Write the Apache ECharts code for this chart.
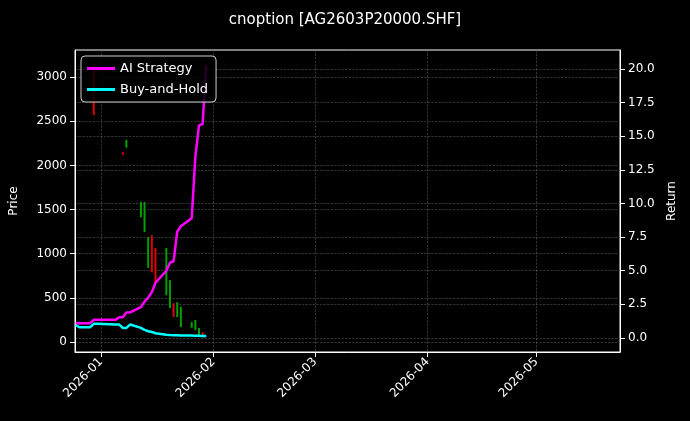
<!DOCTYPE html>
<html>
<head>
<meta charset="utf-8">
<title>cnoption</title>
<script src="https://cdn.jsdelivr.net/npm/echarts@6/dist/echarts.min.js"></script>
</head>
<body style="margin:0;padding:0;background:#000;">
<div id="main" style="width:690px;height:421px;"></div>
<script type="text/javascript">
// trading days
var dates = ['2025-12-25','2025-12-26','2025-12-29','2025-12-30','2025-12-31',
    '2026-01-05','2026-01-06','2026-01-07','2026-01-08','2026-01-09',
    '2026-01-12','2026-01-13','2026-01-14','2026-01-15','2026-01-16',
    '2026-01-19','2026-01-20','2026-01-21','2026-01-22','2026-01-23',
    '2026-01-26','2026-01-27','2026-01-28','2026-01-29','2026-01-30'];
var aiReturn  = [1.1,1.1,1.1,1.35,1.35,1.35,1.55,1.55,1.9,1.9,2.3,2.7,3.0,3.4,4.1,5.0,5.6,5.7,7.9,8.3,8.9,13.5,15.8,15.9,20.3];
var bahReturn = [0.97,0.8,0.8,1.05,1.05,1.0,1.0,0.75,0.75,1.0,0.75,0.6,0.5,0.45,0.35,0.25,0.22,0.21,0.2,0.19,0.18,0.17,0.16,0.15,0.15];
// candles: [date, open, close, low, high]
var candles = [
    ['2025-12-30', 3150, 2570, 2570, 3150],
    ['2026-01-07', 2140, 2130, 2120, 2150],
    ['2026-01-08', 2200, 2290, 2200, 2290],
    ['2026-01-12', 1420, 1585, 1415, 1585],
    ['2026-01-13', 1250, 1580, 1245, 1585],
    ['2026-01-14', 850, 1190, 840, 1190],
    ['2026-01-15', 1210, 800, 790, 1210],
    ['2026-01-16', 1060, 690, 680, 1065],
    ['2026-01-19', 540, 1060, 530, 1065],
    ['2026-01-20', 390, 700, 385, 700],
    ['2026-01-21', 440, 290, 283, 440],
    ['2026-01-22', 290, 450, 283, 450],
    ['2026-01-23', 175, 400, 170, 400],
    ['2026-01-26', 165, 226, 160, 226],
    ['2026-01-27', 140, 250, 135, 250],
    ['2026-01-28', 85, 160, 80, 160],
    ['2026-01-29', 110, 75, 70, 110]
];
var xTicks = ['2026-01-01','2026-02-01','2026-03-01','2026-04-01','2026-05-01'];
var priceTicks = [0,500,1000,1500,2000,2500,3000];
var returnTicks = [0,2.5,5,7.5,10,12.5,15,17.5,20];

function ts(d) { return +new Date(d + 'T00:00:00Z'); }
function fmt(v) {
    var d = new Date(v);
    var m = d.getUTCMonth() + 1;
    return d.getUTCFullYear() + '-' + (m < 10 ? '0' : '') + m;
}

var chart = echarts.init(document.getElementById('main'));
var tickTimes = xTicks.map(ts);
var gridLine = { show: true, lineStyle: { color: '#555', type: 'dashed', width: 0.6 } };
var axisTxt = { color: '#fff', fontSize: 12, fontFamily: 'DejaVu Sans' };

var option = {
    backgroundColor: '#000',
    animation: false,
    title: {
        text: 'cnoption [AG2603P20000.SHF]', left: 'center', top: 8,
        textStyle: { color: '#fff', fontSize: 15, fontWeight: 'normal', fontFamily: 'DejaVu Sans' }
    },
    legend: {
        orient: 'vertical', left: 81, top: 56,
        data: ['AI Strategy', 'Buy-and-Hold'],
        icon: 'rect', itemWidth: 28, itemHeight: 3, itemGap: 8,
        padding: [6, 8, 6, 6],
        borderColor: '#ccc', borderWidth: 1, borderRadius: 4,
        backgroundColor: 'rgba(0,0,0,0.85)',
        textStyle: { color: '#fff', fontSize: 13, fontFamily: 'DejaVu Sans' }
    },
    grid: { left: 74, right: 70, top: 50, bottom: 69, show: true, borderColor: '#fff', borderWidth: 1 },
    xAxis: {
        type: 'value',
        min: ts('2025-12-24') + 20 * 3600e3,
        max: ts('2026-05-24'),
        axisLine: { onZero: false, lineStyle: { color: '#fff' } },
        axisTick: { customValues: tickTimes, lineStyle: { color: '#fff' } },
        axisLabel: {
            customValues: tickTimes, rotate: 45, color: '#fff', fontSize: 12, fontFamily: 'DejaVu Sans',
            formatter: function (v) { return fmt(v); }
        },
        splitLine: gridLine
    },
    yAxis: [{
        type: 'value', min: -113, max: 3307,
        name: 'Price', nameLocation: 'middle', nameGap: 55, nameTextStyle: axisTxt,
        axisLine: { show: true, onZero: false, lineStyle: { color: '#fff' } },
        axisTick: { show: true, customValues: priceTicks },
        axisLabel: Object.assign({ customValues: priceTicks, formatter: function (v) { return String(v); } }, axisTxt),
        splitLine: gridLine
    }, {
        type: 'value', min: -1.04, max: 21.4,
        name: 'Return', nameLocation: 'middle', nameGap: 45, nameTextStyle: axisTxt,
        axisLine: { show: true, onZero: false, lineStyle: { color: '#fff' } },
        axisTick: { show: true, customValues: returnTicks },
        axisLabel: Object.assign({ customValues: returnTicks, formatter: function (v) { return v.toFixed(1); } }, axisTxt),
        splitLine: gridLine
    }],
    series: [{
        type: 'custom', yAxisIndex: 0,
        data: candles.map(function (c) { return [ts(c[0]), c[1], c[2], c[3], c[4]]; }),
        renderItem: function (params, api) {
            var x = api.coord([api.value(0), 0])[0];
            var o = api.value(1), c = api.value(2);
            var lo = api.coord([0, api.value(3)])[1], hi = api.coord([0, api.value(4)])[1];
            var col = c >= o ? '#00a000' : '#e00000';
            return { type: 'rect', shape: { x: x - 1, y: hi, width: 2, height: lo - hi }, style: { fill: col } };
        }
    }, {
        name: 'AI Strategy', type: 'line', yAxisIndex: 1, showSymbol: false,
        data: dates.map(function (d, i) { return [ts(d), aiReturn[i]]; }),
        lineStyle: { color: '#ff00ff', width: 2.5 }, itemStyle: { color: '#ff00ff' }
    }, {
        name: 'Buy-and-Hold', type: 'line', yAxisIndex: 1, showSymbol: false,
        data: dates.map(function (d, i) { return [ts(d), bahReturn[i]]; }),
        lineStyle: { color: '#00ffff', width: 2.5 }, itemStyle: { color: '#00ffff' }
    }]
};
chart.setOption(option);
</script>
</body>
</html>
